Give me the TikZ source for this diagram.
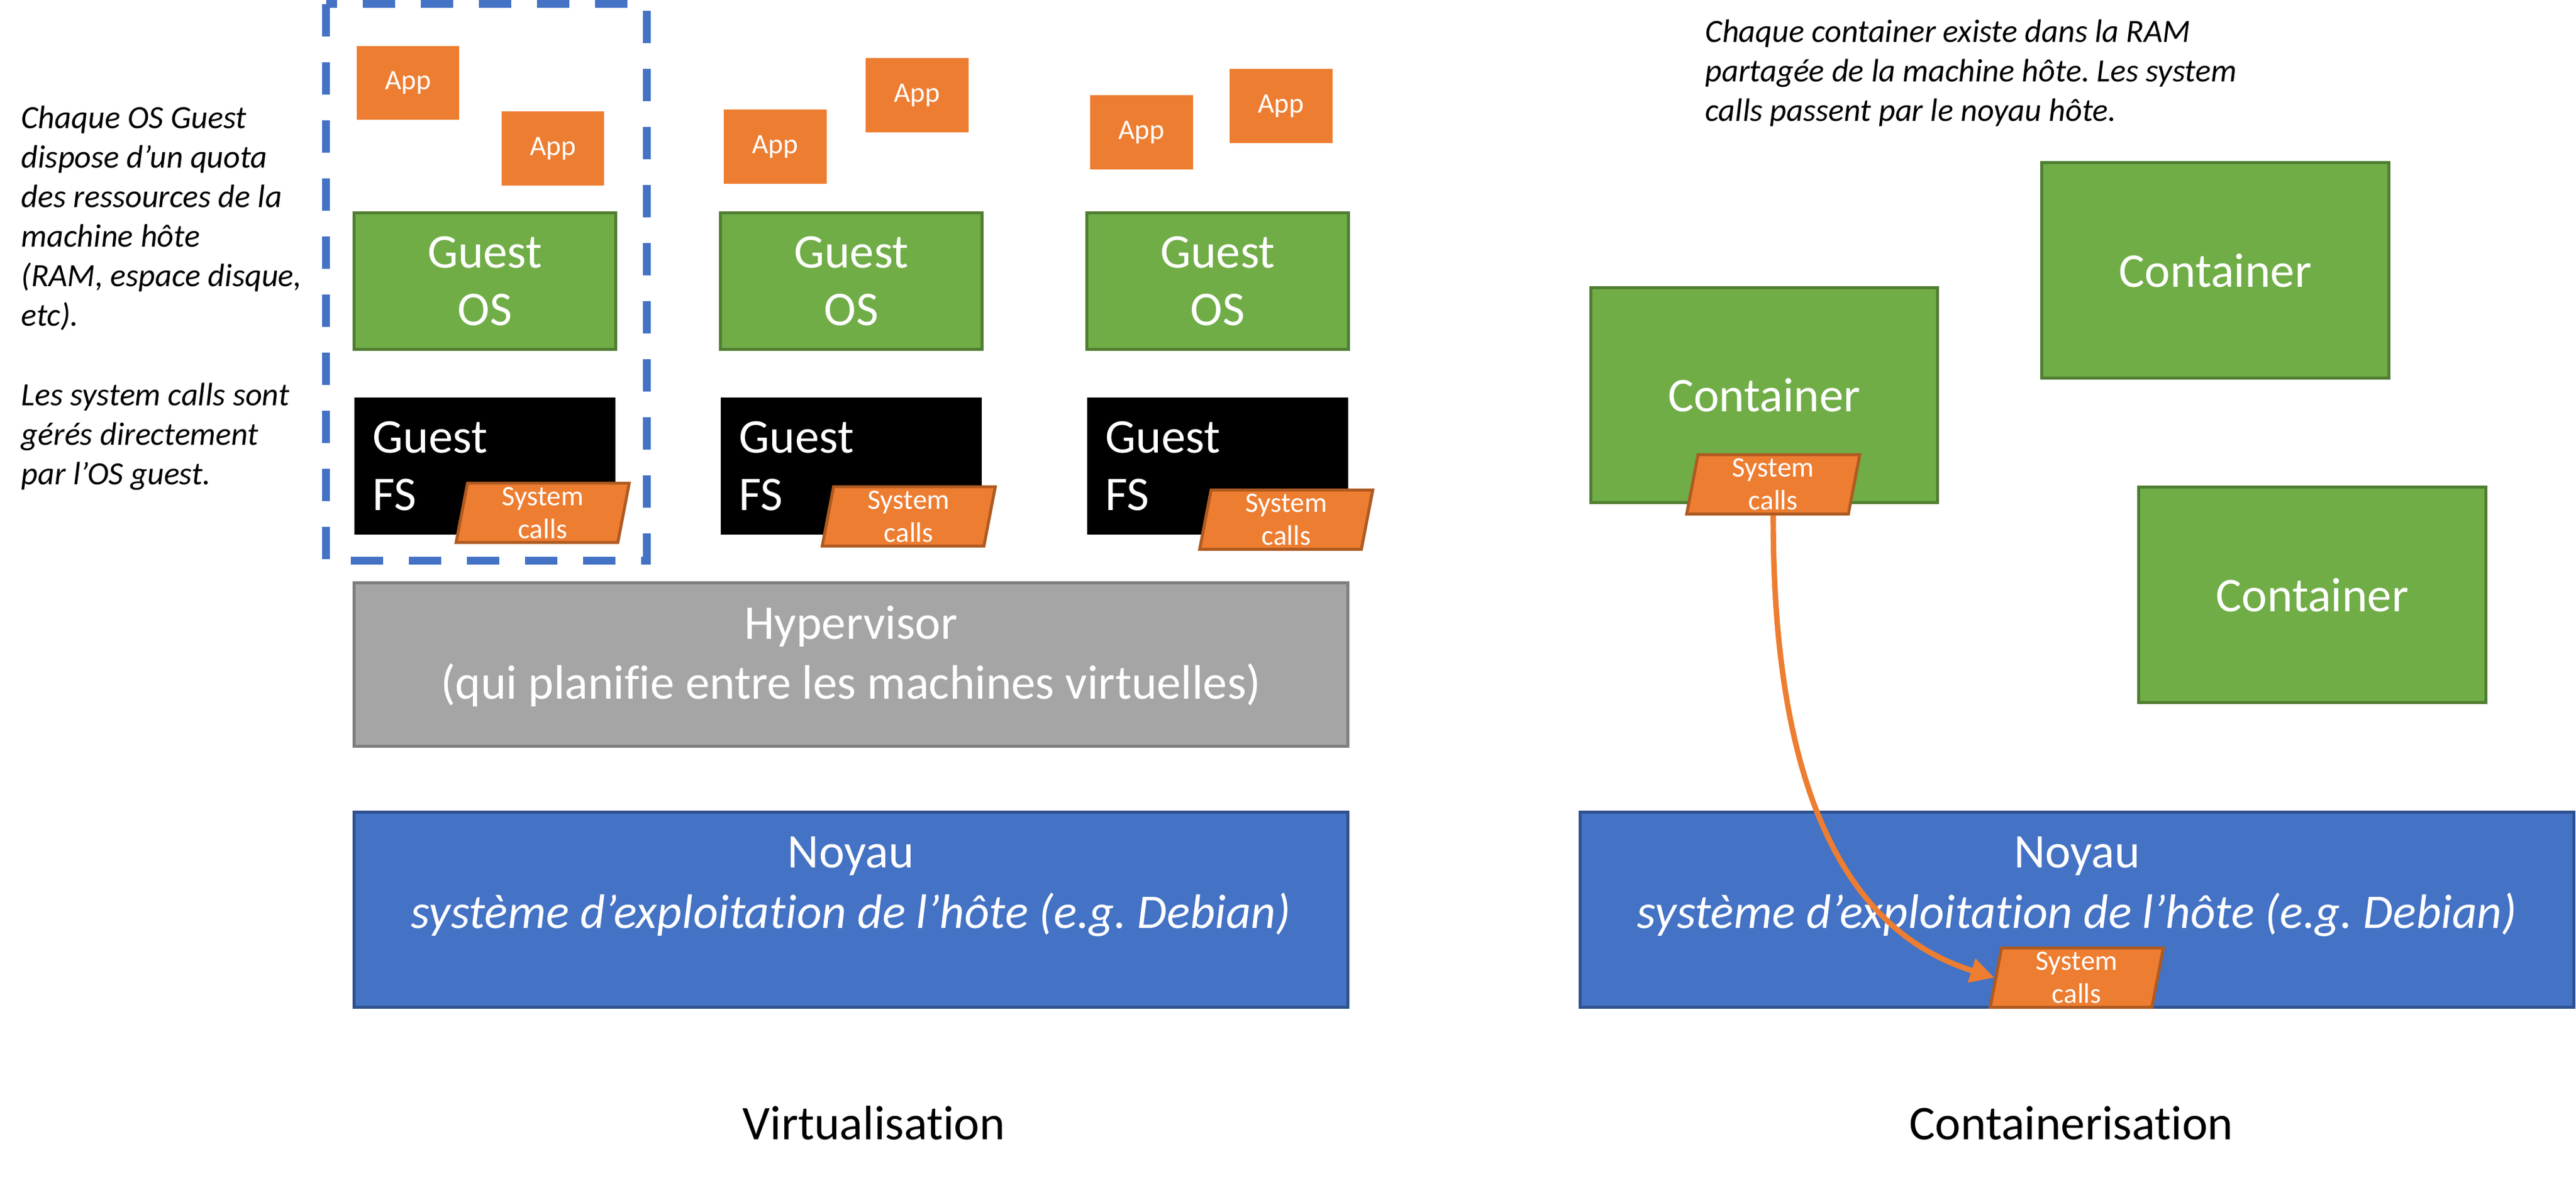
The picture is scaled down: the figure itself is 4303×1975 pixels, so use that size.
\documentclass[tikz,border=0pt]{standalone}
\usepackage{fontspec}
\setmainfont{Carlito}[Ligatures=NoCommon]
\usetikzlibrary{shapes.geometric,arrows.meta}
\frenchspacing

\definecolor{apporange}{HTML}{ED7D31}
\definecolor{callline}{HTML}{AE5A21}
\definecolor{osgreen}{HTML}{70AD47}
\definecolor{osline}{HTML}{507E32}
\definecolor{kernblue}{HTML}{4472C4}
\definecolor{kernline}{HTML}{2F528F}
\definecolor{hypgray}{HTML}{A5A5A5}
\definecolor{hypline}{HTML}{7F7F7F}

\newcommand{\fontbig}{\fontsize{23}{27.5}\selectfont}
\newcommand{\fontwide}{\fontsize{23}{28.5}\selectfont}
\newcommand{\fontnote}{\fontsize{15.4}{18.8}\selectfont}
\newcommand{\fonttag}{\fontsize{13.4}{15.6}\selectfont}

\begin{document}
\begin{tikzpicture}[x=0.01cm,y=-0.01cm,
 note/.style={anchor=north west, align=left, inner sep=0pt, font=\fontnote\itshape},
 appbox/.style={fill=apporange, text=white, minimum width=1.71cm, minimum height=1.23cm, inner sep=0pt, font=\fonttag},
 osbox/.style={fill=osgreen, draw=osline, line width=1.4pt, text=white, minimum width=4.36cm, minimum height=2.27cm, align=center, font=\fontbig},
 fsbox/.style={fill=black, text=white, minimum width=4.36cm, minimum height=2.29cm, text width=3.74cm, inner xsep=0.31cm, align=left, font=\fontbig},
 callbox/.style={trapezium, trapezium left angle=77.5, trapezium right angle=102.5, trapezium stretches body, fill=apporange, draw=callline, line width=1.4pt, text=white, minimum width=2.89cm, minimum height=0.99cm, inner sep=0pt, align=center, font=\fonttag},
 hypbox/.style={fill=hypgray, draw=hypline, line width=1.4pt, minimum width=16.59cm, minimum height=2.72cm},
 kernbox/.style={fill=kernblue, draw=kernline, line width=1.4pt, minimum width=16.59cm, minimum height=3.25cm},
 boxtext/.style={text=white, align=center, inner sep=0pt, font=\fontwide},
 ctbox/.style={fill=osgreen, draw=osline, line width=1.4pt, text=white, minimum width=5.79cm, minimum height=3.59cm, font=\fontbig},
 vmframe/.style={draw=kernblue, line width=3.7pt, dash pattern=on 0.54cm off 0.43cm},
 callarrow/.style={->, >={Triangle[length=0.4cm,width=0.4cm]}, draw=apporange, line width=2.6pt}
]
 \useasboundingbox (0,0) rectangle (4303,1975); %画像の大きさ

 \node[note] (notevm) at (35,176) {Chaque OS Guest\\dispose d’un quota\\des ressources de la\\machine hôte\\(RAM, espace disque,\\etc).\\[0.66cm]Les system calls sont\\gérés directement\\par l’OS guest.}; %左の説明
 \node[note] (notect) at (2848,32) {Chaque container existe dans la RAM\\partagée de la machine hôte. Les system\\calls passent par le noyau hôte.}; %右の説明

 \draw[vmframe] (544.5,6.5) rectangle (1080,936); %点線の枠

 \node[appbox] (app1) at (681.5,138.5) {App}; %App
 \node[appbox] (app2) at (923.5,248) {App}; %App
 \node[appbox] (app3) at (1295,245) {App}; %App
 \node[appbox] (app4) at (1532,159) {App}; %App
 \node[appbox] (app5) at (1907,221) {App}; %App
 \node[appbox] (app6) at (2140,177) {App}; %App

 \node[osbox] (os1) at (810,469.5) {Guest\\OS}; %Guest OS
 \node[osbox] (os2) at (1422,469.5) {Guest\\OS}; %Guest OS
 \node[osbox] (os3) at (2034,469.5) {Guest\\OS}; %Guest OS

 \node[fsbox] (fs1) at (810,778.5) {Guest\\FS}; %Guest FS
 \node[fsbox] (fs2) at (1422,778.5) {Guest\\FS}; %Guest FS
 \node[fsbox] (fs3) at (2034,778.5) {Guest\\FS}; %Guest FS

 \node[callbox] (call1) at (906.5,856.5) {System\\calls}; %system calls
 \node[callbox] (call2) at (1518,862.5) {System\\calls}; %system calls
 \node[callbox] (call3) at (2148.5,868) {System\\calls}; %system calls

 \node[hypbox] (hyp) at (1421.5,1110) {}; %Hypervisor
 \node[boxtext] (hyptext) at (1421.5,1096) {Hypervisor\\(qui planifie entre les machines virtuelles)};

 \node[kernbox] (kernl) at (1421.5,1519.5) {}; %左の noyau
 \node[boxtext] (kernltext) at (1421.5,1481) {Noyau\\\textit{système d’exploitation de l’hôte (e.g. Debian)}};
 \node[kernbox] (kernr) at (3469.5,1519.5) {}; %右の noyau
 \node[boxtext] (kernrtext) at (3469.5,1481) {Noyau\\\textit{système d’exploitation de l’hôte (e.g. Debian)}};

 \node[ctbox] (ct1) at (2947,660) {Container}; %container
 \node[ctbox] (ct2) at (3700.5,451.5) {Container}; %container
 \node[ctbox] (ct3) at (3862.5,993.5) {Container}; %container

 \node[callbox] (call4) at (2962,809) {System\\calls}; %system calls
 \node[callbox] (call5) at (3469,1633) {System\\calls}; %system calls
 \draw[callarrow] (call4.south) .. controls (2961,1350) and (3100,1560) .. (call5.west); %矢印

 \node[anchor=base, font=\fontbig] (virt) at (1460,1903) {Virtualisation}; %下のラベル
 \node[anchor=base, font=\fontbig] (cont) at (3460,1903) {Containerisation}; %下のラベル
\end{tikzpicture}
\end{document}
